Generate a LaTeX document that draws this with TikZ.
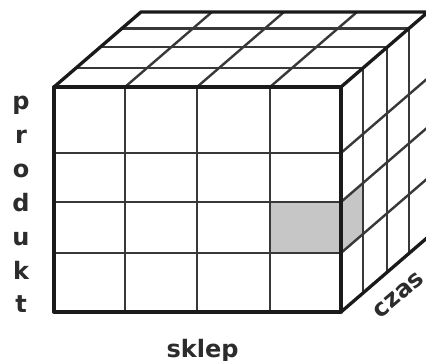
\documentclass[tikz,border=0pt]{standalone}
\usepackage{fontspec}
\setmainfont{DejaVu Sans}
\definecolor{edgecol}{HTML}{1A1A1A}
\definecolor{gridcol}{HTML}{383838}
\definecolor{shadecol}{HTML}{C6C6C6}
\definecolor{textcol}{HTML}{2C2C2C}
\begin{document}
\begin{tikzpicture}[x=1pt,y=-1pt,
  outer/.style={draw=edgecol,line width=3.3pt,line join=round},
  inner/.style={draw=gridcol,line width=2.4pt},
  lbl/.style={text=textcol,font=\bfseries\fontsize{24}{28}\selectfont,inner sep=0pt}]
\useasboundingbox (0,0) rectangle (426,361);
\fill[white] (0,0) rectangle (426,361);
\clip (0,0) rectangle (426,361);
% depth vector (87,-75)
% shaded cell (front)
\fill[shadecol] (270,202) rectangle (341,253);
% shaded cell (side)
\fill[shadecol] (341,202) -- ({341+0.25*87},{202-0.25*75}) -- ({341+0.25*87},{253-0.25*75}) -- (341,253) -- cycle;
% front grid
\foreach \x in {125,197,270} \draw[inner] (\x,87) -- (\x,312);
\foreach \y in {153,202,253} \draw[inner] (54,\y) -- (341,\y);
% top face
\foreach \f in {0.25,0.53,0.78} \draw[inner] ({54+\f*87},{87-\f*75}) -- ({341+\f*87},{87-\f*75});
\foreach \x in {125,197,270} \draw[inner] (\x,87) -- ({\x+87},12);
% side face
\foreach \f in {0.25,0.53,0.78} \draw[inner] ({341+\f*87},{87-\f*75}) -- ({341+\f*87},{312-\f*75});
\foreach \y in {153,202,253} \draw[inner] (341,\y) -- (428,{\y-75});
% outer edges
\draw[outer] (54,87) rectangle (341,312);
\draw[outer] (54,87) -- (141,12) -- (428,12) -- (341,87);
\draw[outer] (428,12) -- (428,237) -- (341,312);
% labels
\node[lbl,anchor=base] (lp) at (21,110) {p};
\node[lbl,anchor=base] (lr) at (21,143.8) {r};
\node[lbl,anchor=base] (lo) at (21,177.6) {o};
\node[lbl,anchor=base] (ld) at (21,211.4) {d};
\node[lbl,anchor=base] (lu) at (21,245.2) {u};
\node[lbl,anchor=base] (lk) at (21,279) {k};
\node[lbl,anchor=base] (lt) at (21,312.8) {t};
\node[lbl,anchor=base] (sklep) at (202.5,357.5) {sklep};
\node[lbl,anchor=base,rotate=40.5] (czas) at (403,300) {czas};
\end{tikzpicture}
\end{document}
